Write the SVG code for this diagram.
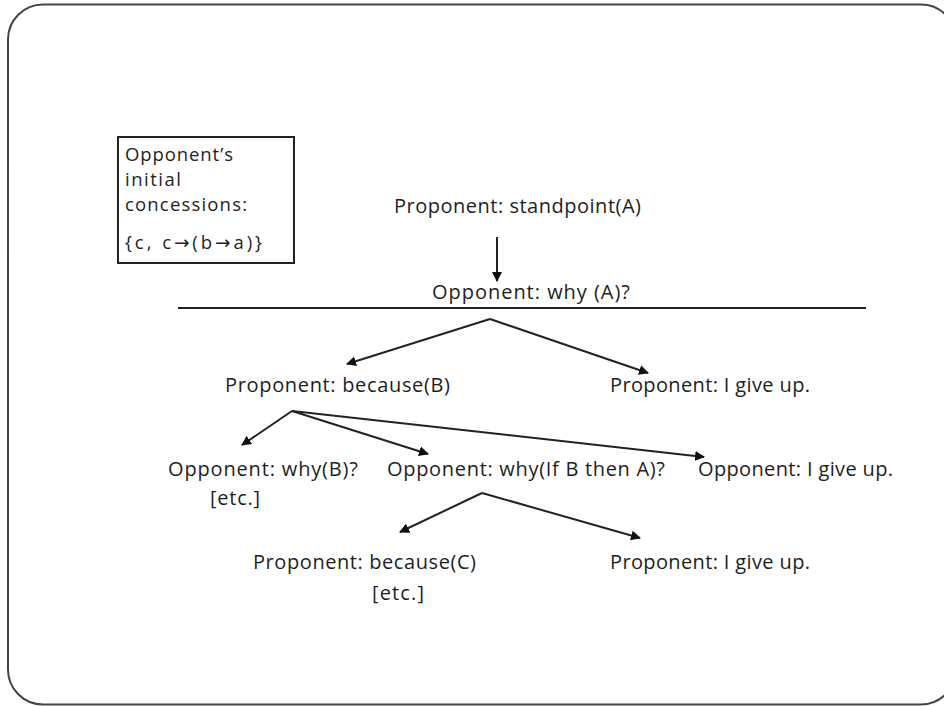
<svg xmlns="http://www.w3.org/2000/svg" width="944" height="706" viewBox="0 0 944 706">
<style>
text{font-family:"Open Sans","Noto Sans","DejaVu Sans",sans-serif;font-size:20px;fill:#1e1e1e}
.b{font-size:18.5px}
.c{stroke:#222;stroke-width:2;fill:none}
</style>
<defs>
<marker id="ah" viewBox="0 0 10 10" refX="9" refY="5" markerWidth="5" markerHeight="5" orient="auto" markerUnits="strokeWidth">
<path d="M0,0 L10,5 L0,10 z" fill="#111"/>
</marker>
</defs>
<rect width="944" height="706" fill="#fff"/>
<rect id="frame" x="8" y="4.5" width="948" height="700" rx="35" ry="35" fill="none" stroke="#444" stroke-width="2"/>
<g id="concessions">
<rect x="118" y="137" width="176" height="126" fill="none" stroke="#222" stroke-width="2"/>
<text class="b" x="125" y="161" textLength="108">Opponent’s</text>
<text class="b" x="125" y="186" textLength="56">initial</text>
<text class="b" x="125" y="211" textLength="122">concessions:</text>
<text class="b" x="125" y="249" textLength="137">{c, c→(b→a)}</text>
</g>
<g id="n1"><text x="394" y="213" textLength="247">Proponent: standpoint(A)</text></g>
<g id="n2"><text x="432" y="299" textLength="198">Opponent: why (A)?</text></g>
<g id="n3"><text x="225" y="392" textLength="225">Proponent: because(B)</text></g>
<g id="n4"><text x="610" y="392" textLength="200">Proponent: I give up.</text></g>
<g id="n5"><text x="168" y="476" textLength="190">Opponent: why(B)?</text><text x="210" y="505" textLength="50">[etc.]</text></g>
<g id="n6"><text x="387" y="476" textLength="278">Opponent: why(If B then A)?</text></g>
<g id="n7"><text x="698" y="476" textLength="195">Opponent: I give up.</text></g>
<g id="n8"><text x="253" y="569" textLength="223">Proponent: because(C)</text><text x="372" y="600" textLength="52">[etc.]</text></g>
<g id="n9"><text x="610" y="569" textLength="200">Proponent: I give up.</text></g>
<g id="connectors">
<line x1="178" y1="308" x2="866" y2="308" stroke="#222" stroke-width="2"/>
<line class="c" x1="497" y1="237" x2="497" y2="281" marker-end="url(#ah)"/>
<line class="c" x1="490" y1="319" x2="347" y2="364" marker-end="url(#ah)"/>
<line class="c" x1="490" y1="319" x2="648" y2="373" marker-end="url(#ah)"/>
<line class="c" x1="292" y1="411" x2="242" y2="445" marker-end="url(#ah)"/>
<line class="c" x1="292" y1="411" x2="428" y2="454" marker-end="url(#ah)"/>
<line class="c" x1="292" y1="411" x2="704" y2="457" marker-end="url(#ah)"/>
<line class="c" x1="482" y1="493" x2="400" y2="532" marker-end="url(#ah)"/>
<line class="c" x1="482" y1="493" x2="640" y2="538" marker-end="url(#ah)"/>
</g>
</svg>
